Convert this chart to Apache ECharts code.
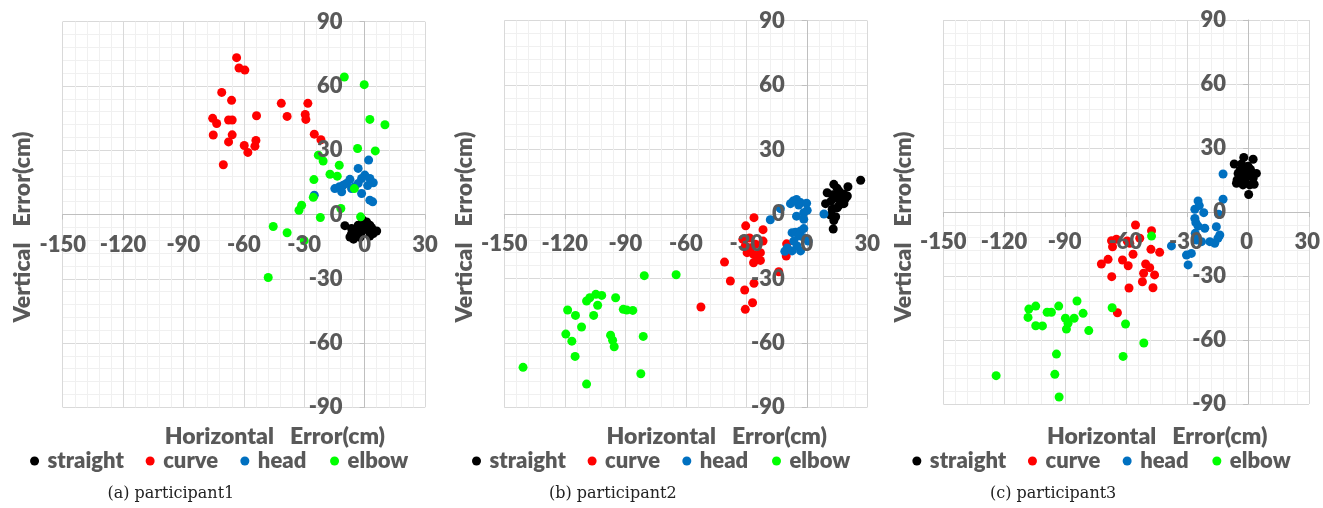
<!DOCTYPE html>
<html><head><meta charset="utf-8">
<script src="https://cdn.jsdelivr.net/npm/echarts@6/dist/echarts.min.js"></script>
<style>html,body{margin:0;padding:0;background:#fff}#c{width:1323px;height:508px}</style>
</head><body><div id="c"></div>
<script>
// ---------------- data ----------------
const xTicks = [-150, -120, -90, -60, -30, 0, 30];
const yTicks = [-90, -60, -30, 0, 30, 60, 90];
const seriesNames = ['straight', 'curve', 'head', 'elbow'];
const captions = ['(a) participant1', '(b) participant2', '(c) participant3'];
const xTitle = 'Horizontal   Error(cm)';
const yTitle = 'Vertical   Error(cm)';

const p1Straight = [[-9.8,-5.2],[-6.5,-6.5],[-3.2,-5.0],[-0.7,-4.2],[1.0,-3.5],[2.6,-5.0],[6.0,-7.7],[4.3,-8.9],[-4.0,-9.7],[-7.3,-10.5],[-1.5,-8.1],[0.1,-6.5],[1.8,-7.3],[-4.8,-7.3],[-2.3,-10.7],[2.6,-10.1],[-6.5,-8.9],[-1.0,-2.5],[3.5,-6.2],[-5.5,-11.5]];
const p1Curve = [[-63.6,73.2],[-62.4,68.4],[-59.5,67.4],[-71.0,57.0],[-66.1,53.3],[-75.5,44.9],[-73.5,42.5],[-67.6,44.1],[-65.8,44.1],[-53.7,46.1],[-75.2,37.1],[-65.8,37.2],[-67.6,33.9],[-59.8,32.2],[-54.0,34.6],[-54.5,31.9],[-58.0,29.0],[-70.2,23.2],[-41.4,51.9],[-28.2,51.9],[-38.5,45.8],[-29.5,46.7],[-29.2,44.4],[-25.0,37.5],[-21.7,34.9]];
const p1Head = [[2.0,25.4],[-3.2,21.5],[0.1,18.4],[2.6,16.8],[4.3,14.8],[-1.5,16.8],[-7.3,16.4],[-10.6,13.7],[-14.8,12.1],[-11.4,10.6],[-6.5,12.1],[-3.2,14.5],[-1.5,9.8],[2.6,6.7],[4.0,5.9],[-25.0,9.0],[-5.0,13.0],[-9.0,14.5],[1.5,13.5],[-12.5,13.0]];
const p1Elbow = [[-10.1,64.2],[-0.2,60.6],[2.6,44.4],[10.1,41.9],[-3.5,30.8],[5.3,29.7],[-23.0,27.7],[-20.6,25.0],[-12.6,23.0],[-17.2,18.8],[-13.6,17.9],[-25.2,16.3],[-5.1,12.1],[-25.5,8.0],[-31.3,4.3],[-32.6,2.0],[-22.0,-1.4],[-11.8,2.8],[-2.0,-1.1],[-45.4,-5.6],[-38.5,-8.5],[-30.0,-12.2],[-47.9,-29.4]];

const p2Straight = [[26.7,15.7],[13.4,13.8],[20.4,12.7],[10.1,9.9],[15.9,10.7],[18.4,9.3],[20.1,8.4],[14.3,7.6],[16.8,6.1],[18.4,4.8],[9.3,4.8],[15.1,2.9],[12.6,2.2],[11.8,-0.5],[14.3,-1.3],[13.4,-3.0],[13.1,-7.0],[17.0,8.0],[12.0,6.0],[15.0,12.0],[16.0,4.0],[13.0,9.0],[19.0,7.0]];
const p2Curve = [[-26.2,-1.7],[-30.3,-5.5],[-21.7,-7.3],[-31.7,-11.8],[-28.4,-11.2],[-21.7,-12.6],[-10.0,-13.9],[-30.5,-14.9],[-28.0,-15.7],[-25.5,-14.1],[-29.6,-18.0],[-26.4,-18.8],[-23.0,-18.0],[-24.7,-21.1],[-26.4,-22.7],[-23.0,-21.6],[-10.2,-19.6],[-40.8,-22.4],[-13.9,-26.9],[-37.9,-31.2],[-26.2,-32.3],[-30.8,-35.4],[-26.9,-41.3],[-30.5,-44.4],[-52.5,-43.3]];
const p2Head = [[-8.1,4.8],[-5.1,6.8],[-4.0,4.2],[-3.1,5.3],[-0.1,5.0],[0.2,1.7],[-1.5,0.6],[-13.1,2.5],[-5.1,-1.0],[-1.5,-2.5],[-18.1,-2.7],[8.5,0.0],[-7.3,-8.7],[-5.6,-8.5],[-3.1,-7.9],[-1.5,-6.8],[-4.0,-10.2],[-1.5,-11.0],[0.7,-12.6],[-6.5,-12.6],[-4.8,-14.9],[-9.7,-15.8],[-10.9,-17.4],[-7.3,-17.2],[-3.1,-17.2],[-6.8,6.0]];
const p2Elbow = [[-80.6,-28.7],[-64.8,-28.3],[-104.6,-37.4],[-101.7,-37.9],[-107.6,-39.0],[-109.2,-40.5],[-94.8,-39.0],[-103.7,-42.5],[-91.0,-44.4],[-89.3,-44.7],[-86.3,-44.9],[-118.6,-44.7],[-114.7,-47.2],[-105.7,-47.2],[-111.7,-52.6],[-119.5,-55.9],[-97.3,-56.4],[-96.3,-58.8],[-95.5,-61.8],[-81.1,-57.0],[-116.5,-59.2],[-114.9,-66.3],[-140.7,-71.4],[-82.3,-74.4],[-109.2,-79.2]];

const p3Straight = [[-2.1,25.6],[2.5,24.7],[-6.8,22.5],[-3.2,22.5],[0.0,21.5],[-4.9,18.1],[-1.6,18.9],[1.7,18.1],[4.1,18.1],[-5.7,13.5],[-2.5,12.7],[0.8,12.7],[2.5,15.8],[-3.2,15.8],[-0.8,16.5],[0.3,8.2],[-5.4,15.0],[-1.6,14.2],[1.2,20.0],[-1.0,20.5],[3.0,13.0],[-4.0,19.5]];
const p3Curve = [[-55.4,-6.1],[-47.5,-8.8],[-67.2,-13.5],[-64.8,-12.8],[-59.5,-13.6],[-58.2,-14.7],[-53.3,-12.3],[-66.7,-16.3],[-47.8,-17.5],[-43.5,-18.9],[-56.6,-19.8],[-68.9,-22.2],[-72.2,-24.4],[-61.8,-22.5],[-59.0,-25.2],[-50.4,-24.4],[-48.4,-26.1],[-51.4,-28.7],[-46.0,-29.5],[-67.1,-30.3],[-52.0,-32.7],[-58.6,-35.6],[-46.8,-35.5],[-64.3,-47.2]];
const p3Head = [[-12.3,17.8],[-12.3,6.0],[-24.6,5.2],[-26.2,1.3],[-24.0,3.0],[-21.8,-0.3],[-26.2,-3.0],[-25.7,-5.0],[-24.6,-6.6],[-21.3,-7.6],[-15.6,-6.9],[-13.9,-10.8],[-14.8,-12.3],[-25.4,-13.1],[-22.9,-13.9],[-18.8,-13.9],[-16.4,-14.7],[-37.7,-15.9],[-30.3,-20.2],[-27.9,-19.4],[-29.5,-24.8],[-26.0,-10.0],[-14.5,-1.0]];
const p3Elbow = [[-47.5,-11.3],[-84.2,-41.7],[-93.2,-44.1],[-104.5,-44.1],[-107.9,-45.5],[-98.9,-47.0],[-96.8,-47.0],[-81.2,-47.5],[-66.9,-44.9],[-108.3,-49.4],[-89.9,-49.8],[-85.6,-49.8],[-88.6,-52.2],[-60.3,-52.5],[-104.5,-53.3],[-101.2,-53.4],[-89.4,-54.9],[-78.4,-55.6],[-51.3,-61.4],[-94.3,-66.6],[-61.5,-67.7],[-124.0,-76.7],[-95.1,-76.1],[-93.0,-86.7]];

const panelData = [
  [p1Straight, p1Curve, p1Head, p1Elbow],
  [p2Straight, p2Curve, p2Head, p2Elbow],
  [p3Straight, p3Curve, p3Head, p3Elbow]
];

// ---------------- layout / style ----------------
const colors = ['#000000', '#ff0000', '#0070c0', '#00ff00'];
const rects = [
  {left: 62.7, top: 21.7, width: 362.3, height: 385.6},
  {left: 504.3, top: 20.7, width: 363, height: 386.6},
  {left: 943.3, top: 20, width: 365.7, height: 384}
];
// legend bullet centre positions relative to the plot centre
const legendBulletDx = [-205.8, -90.2, 4.5, 94.2];
const FONT = 'Lato';
const WEIGHT = 800;
const gray = '#595959';

const grid = [], xAxis = [], yAxis = [], series = [], legend = [], graphic = [];
const xMin = xTicks[0], xMax = xTicks[xTicks.length - 1], xInt = xTicks[1] - xTicks[0];
const yMin = yTicks[0], yMax = yTicks[yTicks.length - 1], yInt = yTicks[1] - yTicks[0];

rects.forEach((r, i) => {
  grid.push({left: r.left, top: r.top, width: r.width, height: r.height});
  grid.push({left: r.left, top: r.top, width: r.width, height: r.height, z: 10});
  const gMain = 2 * i, gOver = 2 * i + 1;
  const lineCommon = {
    axisLine: {show: true, onZero: true, lineStyle: {color: '#bfbfbf', width: 1}},
    axisTick: {show: true, length: 5, lineStyle: {color: '#bfbfbf'}},
    axisLabel: {show: false},
    splitLine: {show: true, lineStyle: {color: '#d9d9d9', width: 1}},
    minorTick: {show: false, splitNumber: 5},
    minorSplitLine: {show: true, lineStyle: {color: '#f0f0f0', width: 1}}
  };
  xAxis.push(Object.assign({gridIndex: gMain, type: 'value', min: xMin, max: xMax, interval: xInt, position: 'bottom'}, lineCommon));
  yAxis.push(Object.assign({gridIndex: gMain, type: 'value', min: yMin, max: yMax, interval: yInt, position: 'left'}, lineCommon));

  // label-only overlay axes, shifted onto the zero lines, drawn above the dots
  const xZeroOffset = -r.height * (0 - yMin) / (yMax - yMin);
  const yZeroOffset = -r.width * (0 - xMin) / (xMax - xMin);
  const labelStyle = {show: true, fontFamily: FONT, fontWeight: WEIGHT, fontSize: 22, color: gray,
    showMinLabel: true, showMaxLabel: true};
  xAxis.push({gridIndex: gOver, type: 'value', min: xMin, max: xMax, interval: xInt, position: 'bottom',
    offset: xZeroOffset, z: 10,
    axisLine: {show: false, onZero: false}, axisTick: {show: false}, splitLine: {show: false},
    axisLabel: Object.assign({margin: 19}, labelStyle)});
  yAxis.push({gridIndex: gOver, type: 'value', min: yMin, max: yMax, interval: yInt, position: 'left',
    offset: yZeroOffset, z: 10,
    axisLine: {show: false, onZero: false}, axisTick: {show: false}, splitLine: {show: false},
    axisLabel: Object.assign({margin: 22}, labelStyle)});

  panelData[i].forEach((d, k) => {
    series.push({
      type: 'scatter', name: seriesNames[k], data: d,
      xAxisIndex: gMain, yAxisIndex: gMain,
      symbol: 'circle', symbolSize: 9,
      itemStyle: {color: colors[k], opacity: 1},
      emphasis: {disabled: true}, silent: true, animation: false
    });
  });

  const cx = r.left + r.width / 2;
  seriesNames.forEach((n, k) => {
    legend.push({
      data: [{name: n, icon: 'circle'}],
      left: cx + legendBulletDx[k] - 8, top: 450, padding: 0,
      itemWidth: 16, itemHeight: 9, symbolKeepAspect: true,
      textStyle: {fontFamily: FONT, fontWeight: WEIGHT, fontSize: 22, color: gray},
      selectedMode: false
    });
  });
  graphic.push({
    type: 'text', x: cx + 31, y: 437, z: 20,
    style: {text: xTitle, font: WEIGHT + ' 23px ' + FONT, fill: gray, textAlign: 'center', textVerticalAlign: 'middle'}
  });
  graphic.push({
    type: 'text', x: r.left - 40, y: 227, rotation: Math.PI / 2, z: 20,
    style: {text: yTitle, font: WEIGHT + ' 23px ' + FONT, fill: gray, textAlign: 'center', textVerticalAlign: 'middle'}
  });
  graphic.push({
    type: 'text', x: cx - 73, y: 494, z: 20,
    style: {text: captions[i], font: '16px "DejaVu Serif"', fill: '#222', textAlign: 'center', textVerticalAlign: 'middle'}
  });
});

const chart = echarts.init(document.getElementById('c'), null, {renderer: 'canvas'});
chart.setOption({
  animation: false,
  backgroundColor: '#ffffff',
  grid, xAxis, yAxis, series, legend, graphic
});
</script>
</body></html>
